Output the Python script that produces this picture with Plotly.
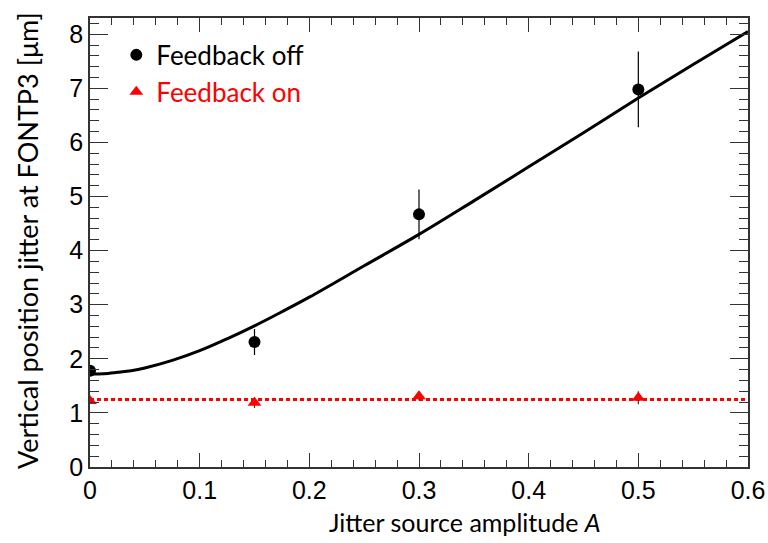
import plotly.graph_objects as go

# Data
amp_off = [0.0, 0.15, 0.30, 0.50]
jit_off = [1.78, 2.31, 4.67, 6.98]
err_off = [0.05, 0.24, 0.46, 0.70]

amp_on = [0.0, 0.15, 0.30, 0.50]
jit_on = [1.22, 1.19, 1.31, 1.28]
err_on = [0.05, 0.10, 0.08, 0.12]

fit_x = [0.0, 0.0125, 0.025, 0.0375, 0.05, 0.075, 0.10, 0.125, 0.15, 0.175, 0.20, 0.25, 0.30, 0.35, 0.40, 0.45, 0.50, 0.55, 0.60]
fit_y = [1.72, 1.725, 1.75, 1.78, 1.83, 1.97, 2.15, 2.37, 2.61, 2.87, 3.14, 3.72, 4.30, 4.92, 5.55, 6.18, 6.82, 7.44, 8.05]

flat_x = [0.0, 0.6]
flat_y = [1.25, 1.25]

x_title = "Jitter source amplitude <i>A</i>"
y_title = "Vertical position jitter at FONTP3 [μm]"

fig = go.Figure()
fig.add_trace(go.Scatter(x=fit_x, y=fit_y, mode="lines", line=dict(color="black", width=3, shape="spline"),
                         showlegend=False, hoverinfo="skip"))
fig.add_trace(go.Scatter(x=flat_x, y=flat_y, mode="lines",
                         line=dict(color="#ff0000", width=3, dash="4px,3px"),
                         showlegend=False, hoverinfo="skip"))
fig.add_trace(go.Scatter(x=amp_off, y=jit_off, mode="markers", name="Feedback off",
                         marker=dict(symbol="circle", size=12, color="black"),
                         error_y=dict(type="data", array=err_off, color="black", thickness=1.2, width=0)))
fig.add_trace(go.Scatter(x=amp_on, y=jit_on, mode="markers",
                         name='<span style="color:#ff0000">Feedback on</span>',
                         marker=dict(symbol="triangle-up", size=12, color="#ff0000"),
                         error_y=dict(type="data", array=err_on, color="#333333", thickness=1.2, width=0)))

tickfont = dict(family="Liberation Sans, Arial, sans-serif", size=25, color="black")

fig.update_xaxes(range=[0, 0.6], dtick=0.1, tick0=0, ticks="inside", ticklen=14, tickwidth=1.2,
                 tickcolor="#333", showline=True, linecolor="#333", linewidth=1.5, mirror="ticks",
                 showgrid=False, zeroline=False, tickfont=tickfont, automargin=False,
                 minor=dict(dtick=0.02, ticks="inside", ticklen=7, tickcolor="#333", showgrid=False))
fig.update_yaxes(range=[0, 8.3], dtick=1, tick0=0, ticks="inside", ticklen=18, tickwidth=1.2,
                 tickcolor="#333", showline=True, linecolor="#333", linewidth=1.5, mirror="ticks",
                 showgrid=False, zeroline=False, tickfont=tickfont, automargin=False,
                 minor=dict(dtick=0.2, ticks="inside", ticklen=9, tickcolor="#333", showgrid=False))

fig.add_annotation(text=x_title, xref="paper", yref="paper", x=0.57, y=-0.122,
                   xanchor="center", yanchor="middle", showarrow=False,
                   font=dict(family="Lato, Open Sans, sans-serif", size=25, color="black"))
fig.add_annotation(text=y_title, xref="paper", yref="paper", x=-0.096, y=0.505,
                   xanchor="center", yanchor="middle", textangle=-90, showarrow=False,
                   font=dict(family="Lato, Open Sans, sans-serif", size=27, color="black"))

fig.update_layout(
    width=768, height=543,
    margin=dict(l=90, r=20, t=18, b=76),
    paper_bgcolor="white", plot_bgcolor="white",
    legend=dict(x=0.04, y=0.97, xanchor="left", yanchor="top", bgcolor="rgba(0,0,0,0)",
                font=dict(family="Lato, Open Sans, sans-serif", size=26, color="black"),
                itemsizing="constant", tracegroupgap=0, itemwidth=30),
)

fig.write_html("out.html")
